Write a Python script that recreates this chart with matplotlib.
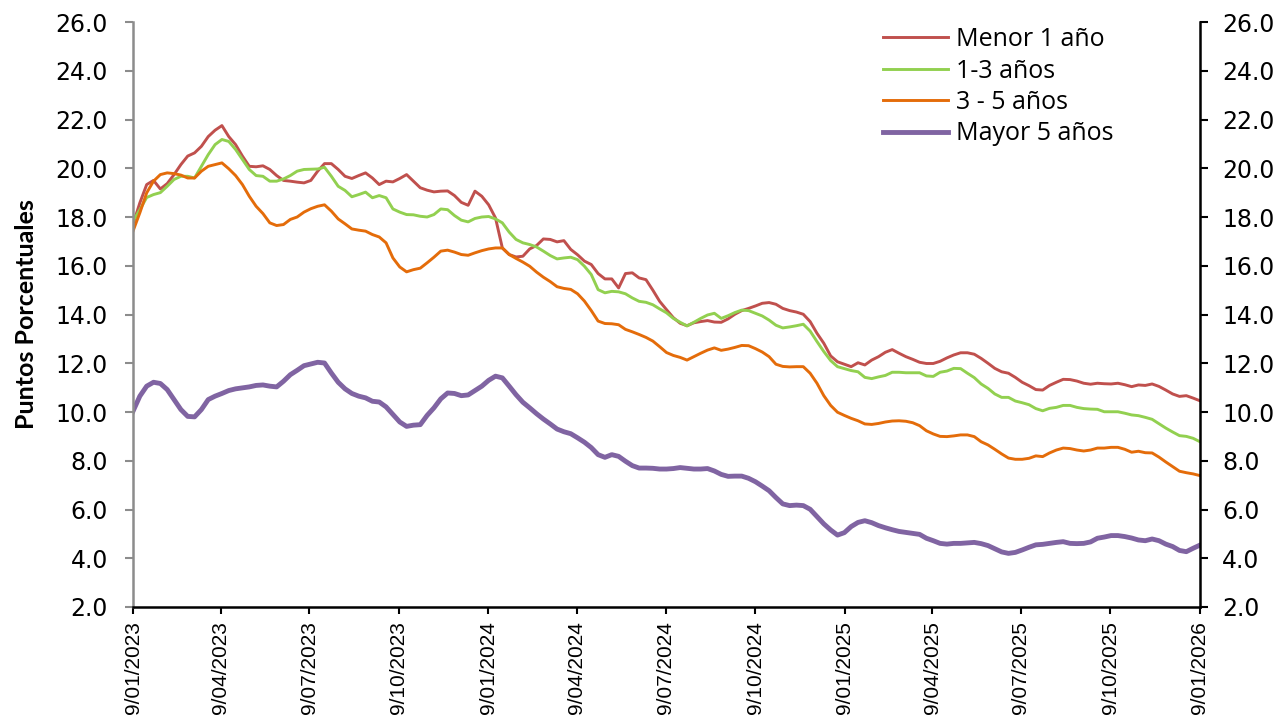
import matplotlib
matplotlib.use("Agg")
import matplotlib.pyplot as plt
import pandas as pd
from matplotlib.lines import Line2D

# ---------------- data ----------------
start_date = "2023-01-09"
end_date = "2026-01-09"
n_points = 157

menor_1 = [
    17.7, 18.58, 19.33, 19.5, 19.15, 19.37, 19.74, 20.15, 20.5, 20.63, 20.9, 21.3, 21.56, 21.75,
    21.3, 20.97, 20.5, 20.08, 20.06, 20.1, 19.95, 19.7, 19.5, 19.47, 19.43, 19.4, 19.5,
    19.88, 20.19, 20.19, 19.95, 19.67, 19.58, 19.7, 19.81, 19.6, 19.33, 19.47, 19.44, 19.58,
    19.74, 19.47, 19.2, 19.1, 19.03, 19.06, 19.07, 18.88, 18.6, 18.48, 19.06, 18.85, 18.5,
    17.96, 16.73, 16.46, 16.36, 16.39, 16.69, 16.83, 17.1, 17.08, 16.98, 17.03, 16.67, 16.45,
    16.19, 16.05, 15.68, 15.46, 15.46, 15.09, 15.68, 15.71, 15.5, 15.43, 15.0, 14.54, 14.2,
    13.87, 13.64, 13.54, 13.66, 13.71, 13.75, 13.69, 13.68, 13.82, 14.01, 14.16, 14.25, 14.35,
    14.46, 14.49, 14.42, 14.25, 14.16, 14.1, 14.01, 13.71, 13.23, 12.82, 12.3, 12.06, 11.96, 11.86,
    12.02, 11.93, 12.13, 12.27, 12.45, 12.56, 12.41, 12.27, 12.16, 12.04, 11.99, 11.99, 12.08,
    12.22, 12.34, 12.43, 12.43, 12.37, 12.2, 12.0, 11.79, 11.65, 11.59, 11.42, 11.22, 11.08, 10.92,
    10.9, 11.09, 11.22, 11.34, 11.33, 11.27, 11.18, 11.14, 11.18, 11.16, 11.15, 11.18, 11.12,
    11.04, 11.11, 11.09, 11.15, 11.05, 10.9, 10.74, 10.64, 10.67, 10.57, 10.46,
]

de_1_3 = [
    17.83, 18.3, 18.8, 18.92, 19.0, 19.26, 19.54, 19.67, 19.67, 19.6, 20.08, 20.56, 20.97, 21.18,
    21.1, 20.77, 20.36, 19.95, 19.7, 19.67, 19.47, 19.47, 19.56, 19.7, 19.88, 19.95, 19.96,
    19.97, 20.04, 19.67, 19.26, 19.09, 18.83, 18.92, 19.02, 18.79, 18.88, 18.79, 18.33, 18.2,
    18.1, 18.09, 18.03, 18.0, 18.1, 18.33, 18.3, 18.06, 17.87, 17.8, 17.94, 18.0, 18.02,
    17.92, 17.76, 17.38, 17.08, 16.94, 16.87, 16.77, 16.6, 16.42, 16.28, 16.32, 16.35, 16.25,
    15.98, 15.64, 15.02, 14.89, 14.95, 14.93, 14.85, 14.68, 14.54, 14.5, 14.4, 14.23, 14.07,
    13.84, 13.68, 13.53, 13.68, 13.84, 13.98, 14.05, 13.84, 13.95, 14.08, 14.18, 14.16, 14.05,
    13.94, 13.77, 13.56, 13.45, 13.49, 13.54, 13.6, 13.32, 12.89, 12.48, 12.11, 11.86, 11.78, 11.7,
    11.65, 11.42, 11.37, 11.44, 11.5, 11.63, 11.63, 11.61, 11.61, 11.61, 11.48, 11.46, 11.63,
    11.68, 11.79, 11.78, 11.59, 11.41, 11.15, 10.97, 10.74, 10.6, 10.6, 10.45, 10.38, 10.3, 10.14,
    10.05, 10.15, 10.19, 10.27, 10.27, 10.19, 10.14, 10.12, 10.11, 10.01, 10.01, 10.01, 9.95,
    9.88, 9.85, 9.78, 9.7, 9.52, 9.34, 9.18, 9.03, 9.0, 8.92, 8.78,
]

de_3_5 = [
    17.42, 18.17, 18.99, 19.47, 19.74, 19.81, 19.78, 19.72, 19.6, 19.6, 19.88, 20.08, 20.15, 20.22,
    19.98, 19.7, 19.33, 18.85, 18.44, 18.14, 17.76, 17.65, 17.69, 17.9, 18.0, 18.2, 18.34,
    18.44, 18.5, 18.24, 17.92, 17.72, 17.51, 17.46, 17.42, 17.28, 17.18, 16.94, 16.32, 15.95,
    15.75, 15.84, 15.9, 16.12, 16.35, 16.6, 16.64, 16.56, 16.46, 16.43, 16.53, 16.62, 16.69,
    16.73, 16.73, 16.46, 16.3, 16.15, 15.98, 15.74, 15.53, 15.35, 15.14, 15.07, 15.03, 14.85,
    14.55, 14.16, 13.73, 13.63, 13.62, 13.58, 13.39, 13.29, 13.18, 13.06, 12.91, 12.68, 12.44,
    12.32, 12.24, 12.13, 12.27, 12.41, 12.54, 12.63, 12.53, 12.58, 12.65, 12.73, 12.72, 12.6,
    12.46, 12.27, 11.96, 11.87, 11.85, 11.86, 11.86, 11.59, 11.18, 10.67, 10.27, 9.99, 9.86, 9.74,
    9.64, 9.51, 9.49, 9.53, 9.59, 9.63, 9.64, 9.62, 9.56, 9.44, 9.23, 9.1, 9.0,
    8.99, 9.02, 9.06, 9.06, 8.99, 8.78, 8.65, 8.47, 8.28, 8.11, 8.06, 8.06, 8.1, 8.2,
    8.17, 8.32, 8.44, 8.52, 8.5, 8.44, 8.4, 8.44, 8.52, 8.52, 8.55, 8.55, 8.47,
    8.35, 8.39, 8.33, 8.32, 8.15, 7.95, 7.76, 7.57, 7.51, 7.46, 7.39,
]

mayor_5 = [
    10.03, 10.65, 11.06, 11.22, 11.17, 10.92, 10.51, 10.1, 9.82, 9.8, 10.1, 10.51, 10.65, 10.76,
    10.88, 10.95, 10.99, 11.03, 11.09, 11.11, 11.06, 11.03, 11.26, 11.53, 11.71, 11.9, 11.97,
    12.04, 12.01, 11.6, 11.22, 10.95, 10.76, 10.65, 10.58, 10.44, 10.41, 10.21, 9.9, 9.59,
    9.41, 9.46, 9.48, 9.86, 10.17, 10.54, 10.78, 10.76, 10.67, 10.7, 10.88, 11.06, 11.3,
    11.47, 11.4, 11.06, 10.71, 10.4, 10.17, 9.93, 9.71, 9.51, 9.3, 9.19, 9.11, 8.94,
    8.76, 8.54, 8.25, 8.14, 8.25, 8.18, 7.98, 7.8, 7.7, 7.7, 7.69, 7.66, 7.66,
    7.68, 7.72, 7.69, 7.66, 7.66, 7.68, 7.58, 7.44, 7.36, 7.37, 7.37, 7.28, 7.14,
    6.96, 6.77, 6.49, 6.23, 6.16, 6.18, 6.16, 6.01, 5.71, 5.41, 5.16, 4.95, 5.05, 5.3,
    5.47, 5.54, 5.46, 5.34, 5.25, 5.17, 5.1, 5.06, 5.02, 4.98, 4.82, 4.72, 4.61,
    4.58, 4.61, 4.61, 4.63, 4.65, 4.6, 4.52, 4.39, 4.26, 4.2, 4.24, 4.34, 4.45, 4.55,
    4.57, 4.61, 4.65, 4.68, 4.61, 4.6, 4.61, 4.67, 4.82, 4.87, 4.93, 4.93, 4.89,
    4.83, 4.75, 4.72, 4.79, 4.72, 4.58, 4.48, 4.32, 4.27, 4.41, 4.54,
]

series_names = ["Menor 1 año", "1-3 años", "3 - 5 años", "Mayor 5 años"]
series_values = [menor_1, de_1_3, de_3_5, mayor_5]

x_tick_dates = ["2023-01-09", "2023-04-09", "2023-07-09", "2023-10-09",
                "2024-01-09", "2024-04-09", "2024-07-09", "2024-10-09",
                "2025-01-09", "2025-04-09", "2025-07-09", "2025-10-09", "2026-01-09"]
x_tick_labels = ["9/01/2023", "9/04/2023", "9/07/2023", "9/10/2023",
                 "9/01/2024", "9/04/2024", "9/07/2024", "9/10/2024",
                 "9/01/2025", "9/04/2025", "9/07/2025", "9/10/2025", "9/01/2026"]
y_ticks = [2, 4, 6, 8, 10, 12, 14, 16, 18, 20, 22, 24, 26]
y_tick_labels = [f"{v:.1f}" for v in y_ticks]
y_label = "Puntos Porcentuales"

# ---------------- style ----------------
colors = ["#C0504D", "#92D050", "#E46C0A", "#8064A2"]
widths = [2.1, 2.1, 2.1, 3.5]

dates = pd.date_range(start_date, end_date, periods=n_points)

W, H, DPI = 1285, 715, 100
fig = plt.figure(figsize=(W / DPI, H / DPI), dpi=DPI)
ax = fig.add_axes([133 / W, 1 - 607 / H, (1200 - 133) / W, (607 - 22) / H])

for vals, c, lw, name in zip(series_values, colors, widths, series_names):
    ax.plot(dates, vals, color=c, lw=lw, label=name, solid_joinstyle="round")

ax.set_xlim(pd.Timestamp(start_date), pd.Timestamp(end_date))
ax.set_ylim(2, 26)

ax.set_xticks(pd.to_datetime(x_tick_dates))
ax.set_xticklabels(x_tick_labels, rotation=90, fontfamily="Liberation Sans", fontsize=15)
ax.set_yticks(y_ticks)
ax.set_yticklabels(y_tick_labels, fontfamily="DejaVu Sans", fontsize=17)

for s in ["top", "right"]:
    ax.spines[s].set_visible(False)
ax.spines["left"].set_color("#8C8C8C")
ax.spines["left"].set_linewidth(1.8)
ax.spines["bottom"].set_color("black")
ax.spines["bottom"].set_linewidth(1.8)
ax.tick_params(axis="y", direction="out", length=6, width=1.5, color="#8C8C8C", pad=12)
ax.tick_params(axis="x", direction="out", length=5, width=1.5, color="black", pad=5)

ax2 = ax.twinx()
ax2.set_ylim(2, 26)
ax2.set_yticks(y_ticks)
ax2.set_yticklabels(y_tick_labels, fontfamily="DejaVu Sans", fontsize=17)
for s in ["top", "left", "bottom"]:
    ax2.spines[s].set_visible(False)
ax2.spines["right"].set_color("black")
ax2.spines["right"].set_linewidth(1.8)
ax2.tick_params(axis="y", direction="out", length=6, width=1.5, color="black", pad=10)

fig.text(27 / W, 1 - 314 / H, y_label, rotation=90, ha="center", va="center",
         fontfamily="Lato", fontweight="bold", fontsize=18)

handles = [Line2D([], [], color=c, lw=lw) for c, lw in zip(colors, widths)]
leg = fig.legend(handles, series_names, loc="upper left",
                 bbox_to_anchor=(883 / W, 1 - 27 / H), frameon=False,
                 prop={"family": "Open Sans", "size": 18},
                 handlelength=2.6, handletextpad=0.3, labelspacing=0.26,
                 borderpad=0, borderaxespad=0)

fig.savefig("out.png", dpi=DPI)
